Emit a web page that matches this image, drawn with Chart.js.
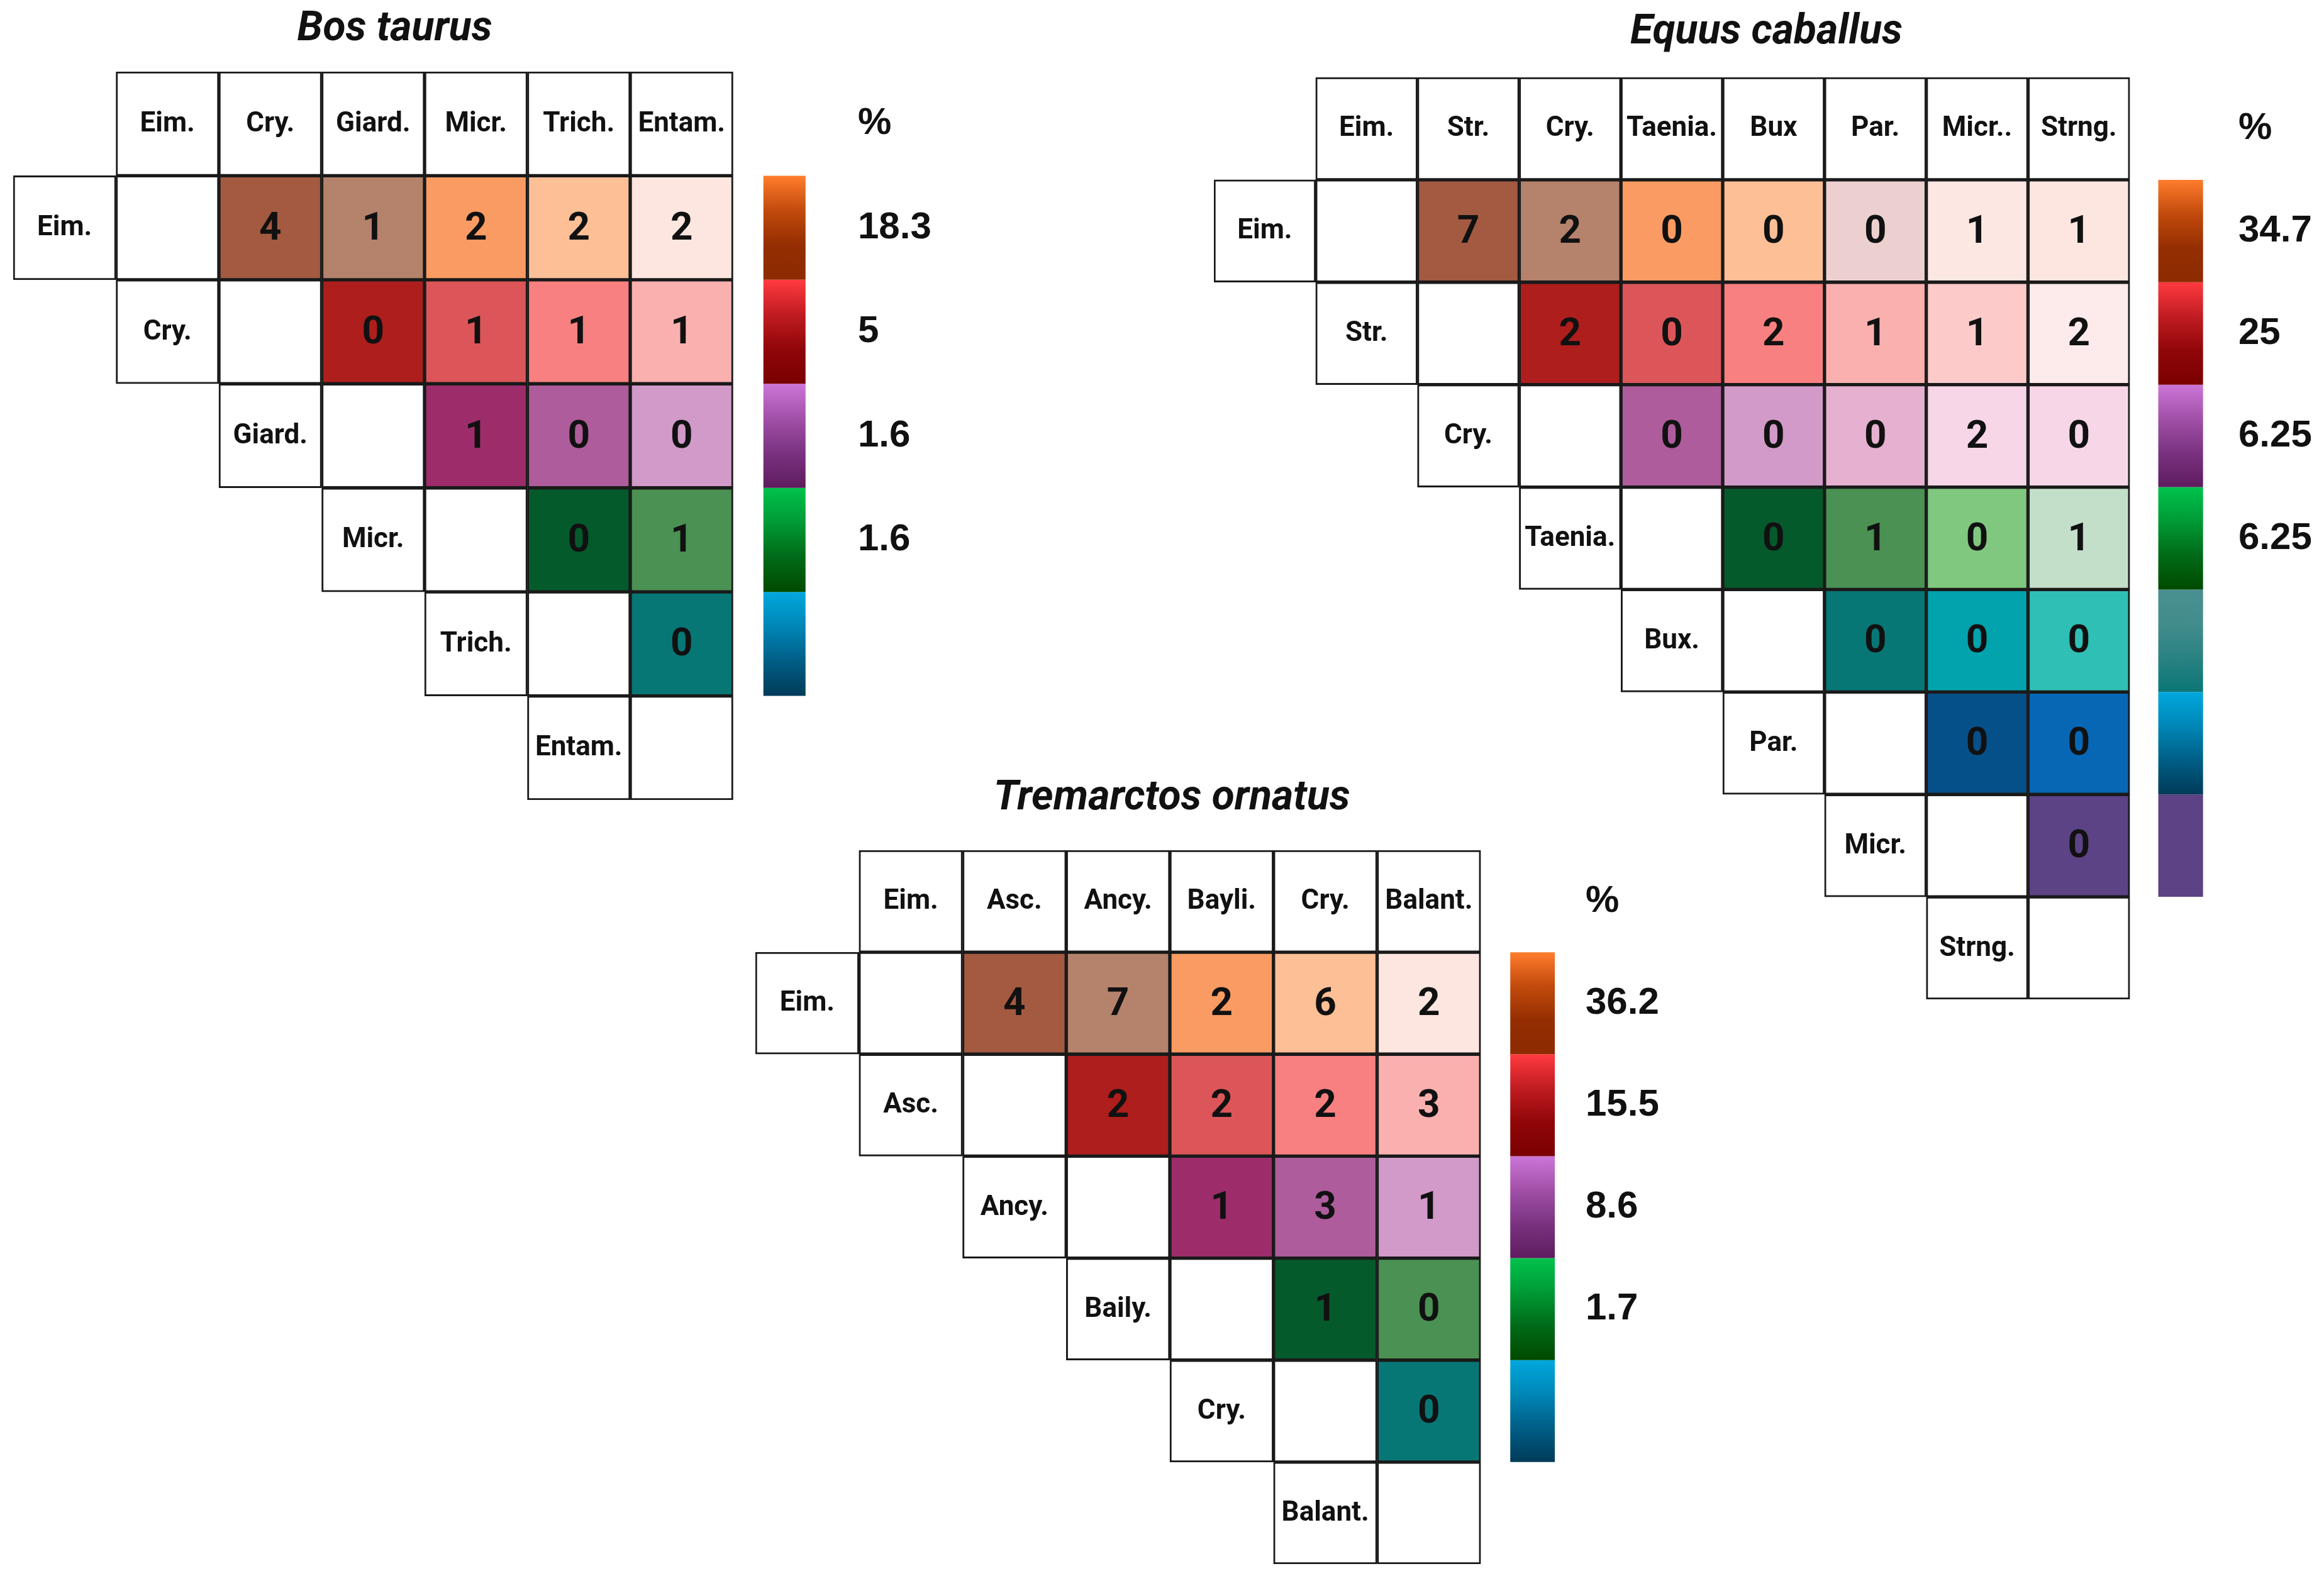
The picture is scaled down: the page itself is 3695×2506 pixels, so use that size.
<!DOCTYPE html>
<html>
<head>
<meta charset="utf-8">
<script src="https://cdn.jsdelivr.net/npm/chart.js@4.4.1/dist/chart.umd.min.js"></script>
<style>
body{margin:0;background:#fff;}
#page{position:relative;width:3695px;height:2506px;overflow:hidden;background:#fff;}
canvas{position:absolute;}
</style>
</head>
<body>
<div id="page">
<canvas id="bos" width="1569" height="1282" style="left:0px;top:0px"></canvas>
<canvas id="equus" width="1855" height="1600" style="left:1830px;top:0px"></canvas>
<canvas id="trem" width="1618" height="1275" style="left:1101px;top:1222px"></canvas>
</div>
<script>
// Bos taurus
var bosCols = ['Eim.', 'Cry.', 'Giard.', 'Micr.', 'Trich.', 'Entam.'];
var bosRows = ['Eim.', 'Cry.', 'Giard.', 'Micr.', 'Trich.', 'Entam.'];
var bosValues = [[4, 1, 2, 2, 2], [0, 1, 1, 1], [1, 0, 0], [0, 1], [0]];
var bosScale = ['18.3', '5', '1.6', '1.6'];

// Equus caballus
var equCols = ['Eim.', 'Str.', 'Cry.', 'Taenia.', 'Bux', 'Par.', 'Micr..', 'Strng.'];
var equRows = ['Eim.', 'Str.', 'Cry.', 'Taenia.', 'Bux.', 'Par.', 'Micr.', 'Strng.'];
var equValues = [[7, 2, 0, 0, 0, 1, 1], [2, 0, 2, 1, 1, 2], [0, 0, 0, 2, 0], [0, 1, 0, 1], [0, 0, 0], [0, 0], [0]];
var equScale = ['34.7', '25', '6.25', '6.25'];

// Tremarctos ornatus
var treCols = ['Eim.', 'Asc.', 'Ancy.', 'Bayli.', 'Cry.', 'Balant.'];
var treRows = ['Eim.', 'Asc.', 'Ancy.', 'Baily.', 'Cry.', 'Balant.'];
var treValues = [[4, 7, 2, 6, 2], [2, 2, 2, 3], [1, 3, 1], [1, 0], [0]];
var treScale = ['36.2', '15.5', '8.6', '1.7'];

// cell colours
var shortColors = [
  ['#a35a40', '#b5826c', '#f99b62', '#fdbf96', '#fde6e0'],
  ['#ad1e1c', '#dc5659', '#f88080', '#fbb0b0'],
  ['#9d2c6a', '#ae5c9b', '#d19ac8'],
  ['#055a2c', '#4a9153'],
  ['#077776']
];
var equColors = [
  ['#a35a40', '#b5826c', '#f99b62', '#fdbf96', '#ecd0cf', '#fde7e3', '#fde6e0'],
  ['#ad1e1c', '#dc5659', '#f88080', '#fbb0b0', '#fdcaca', '#fdeaea'],
  ['#ae5c9b', '#d19ac8', '#e6b0d0', '#f7d6e8', '#f7d6e8'],
  ['#055a2c', '#4a9153', '#80c87f', '#c3dec9'],
  ['#077776', '#02a3ad', '#2fbfb4'],
  ['#06508a', '#0767b5'],
  ['#5c4386']
];

// colour bar gradients, top to bottom
var gOrange = ['#ff7d2d', '#c24a0c', '#942e02', '#8d2a00'];
var gRed = ['#ff3a3f', '#c01c22', '#900608', '#7a0000'];
var gPurple = ['#cc76d8', '#a150a8', '#7a3280', '#5e1c5e'];
var gGreen = ['#00c24c', '#009a36', '#006a18', '#004a00'];
var gTeal = ['#4a9090', '#438c8c', '#2a8282', '#0a7675'];
var gBlue = ['#00a8de', '#0086b6', '#005e86', '#003a58'];
var gViolet = ['#5d4286', '#5d4286'];

var cellText = {
  id: 'cellText',
  afterDatasetsDraw: function(chart, args, opts) {
    var ctx = chart.ctx;
    ctx.save();
    ctx.textAlign = 'center';
    ctx.textBaseline = 'middle';
    ctx.fillStyle = '#111';
    chart.data.datasets.forEach(function(ds, i) {
      if (!ds.texts) return;
      var meta = chart.getDatasetMeta(i);
      meta.data.forEach(function(el, j) {
        var t = ds.texts[j];
        if (t === null || t === undefined) return;
        var p = el.getCenterPoint();
        if (ds.kinds[j] === 'value') {
          ctx.font = 'bold 62px Roboto';
          ctx.fillText(t, p.x, p.y + 3);
        } else {
          ctx.font = 'bold 44px Roboto';
          ctx.fillText(t, p.x, p.y + 1);
        }
      });
    });
    ctx.font = 'italic bold 66px Roboto';
    ctx.fillText(opts.text, chart.scales.x.getPixelForValue(opts.at), opts.y);
    ctx.restore();
  }
};

function gradient(stops, r) {
  return function(c) {
    var chart = c.chart;
    var y = chart.scales.y;
    if (!y || !chart.chartArea) return stops[0];
    var y0 = y.getPixelForValue(r), y1 = y.getPixelForValue(r + 1);
    var g = chart.ctx.createLinearGradient(0, y0, 0, y1);
    stops.forEach(function(s, i) { g.addColorStop(i / (stops.length - 1), s); });
    return g;
  };
}

function makePanel(id, title, cols, rows, values, colors, scaleLabels, scaleColors, look) {
  var n = cols.length;
  var labels = [];
  for (var c = 0; c < n + 2; c++) labels.push('c' + c);
  function empty() { var a = []; for (var c = 0; c < n + 2; c++) a.push(null); return a; }

  var datasets = [];
  var hd = empty(), ht = empty(), hk = empty(), hb = empty();
  for (var c = 1; c <= n; c++) { hd[c] = [0, 1]; ht[c] = cols[c - 1]; hk[c] = 'label'; hb[c] = '#ffffff'; }
  datasets.push({data: hd, texts: ht, kinds: hk, backgroundColor: hb, borderColor: '#1a1a1a', borderWidth: 3});

  for (var r = 1; r <= n; r++) {
    var d = empty(), t = empty(), k = empty(), bg = empty();
    d[r - 1] = [r, r + 1]; t[r - 1] = rows[r - 1]; k[r - 1] = 'label'; bg[r - 1] = '#ffffff';
    d[r] = [r, r + 1]; bg[r] = '#ffffff';
    for (var c = r + 1; c <= n; c++) {
      d[c] = [r, r + 1];
      t[c] = String(values[r - 1][c - r - 1]);
      k[c] = 'value';
      bg[c] = colors[r - 1][c - r - 1];
    }
    datasets.push({data: d, texts: t, kinds: k, backgroundColor: bg, borderColor: '#1a1a1a', borderWidth: 3});
  }

  scaleColors.forEach(function(stops, s) {
    var d = empty();
    d[n + 1] = [s + 1, s + 2];
    datasets.push({data: d, backgroundColor: gradient(stops, s + 1), borderWidth: 0, barPercentage: look.barW});
  });

  var tickLabels = ['%'].concat(scaleLabels);

  return new Chart(document.getElementById(id), {
    type: 'bar',
    data: {labels: labels, datasets: datasets},
    plugins: [cellText],
    options: {
      responsive: false,
      animation: false,
      devicePixelRatio: 1,
      layout: {padding: look.padding},
      datasets: {bar: {barPercentage: 1, categoryPercentage: 1, grouped: false, borderSkipped: false}},
      plugins: {
        legend: {display: false},
        tooltip: {enabled: false},
        cellText: {text: title, at: look.titleAt, y: look.titleY}
      },
      scales: {
        x: {type: 'category', display: false, offset: true},
        y: {
          type: 'linear', min: 0, max: n + 1, reverse: true, position: 'right',
          grid: {display: false, drawTicks: false},
          border: {display: false},
          afterBuildTicks: function(ax) {
            ax.ticks = tickLabels.map(function(_, i) { return {value: i + 0.5}; });
          },
          afterFit: function(ax) {
            ax.width = look.axisW;
            ax.paddingTop = 0;
            ax.paddingBottom = 0;
          },
          ticks: {
            autoSkip: false, padding: look.pad, crossAlign: 'near', color: '#111',
            font: {family: '"Liberation Sans", Arial, sans-serif', weight: 'bold', size: 60},
            callback: function(v, i) { return tickLabels[i]; }
          }
        }
      }
    }
  });
}

makePanel('bos', 'Bos taurus', bosCols, bosRows, bosValues, shortColors, bosScale,
  [gOrange, gRed, gPurple, gGreen, gBlue],
  {padding: {left: 21, top: 114, right: 0, bottom: 10}, axisW: 240, pad: 35, barW: 0.41, titleAt: 3.21, titleY: 47});

makePanel('equus', 'Equus caballus', equCols, equRows, equValues, equColors, equScale,
  [gOrange, gRed, gPurple, gGreen, gTeal, gBlue, gViolet],
  {padding: {left: 100, top: 123, right: 0, bottom: 11}, axisW: 137, pad: 11, barW: 0.44, titleAt: 4.93, titleY: 52});

makePanel('trem', 'Tremarctos ornatus', treCols, treRows, treValues, shortColors, treScale,
  [gOrange, gRed, gPurple, gGreen, gBlue],
  {padding: {left: 100, top: 130, right: 0, bottom: 10}, axisW: 200, pad: 2, barW: 0.43, titleAt: 3.52, titleY: 48});
</script>
</body>
</html>
